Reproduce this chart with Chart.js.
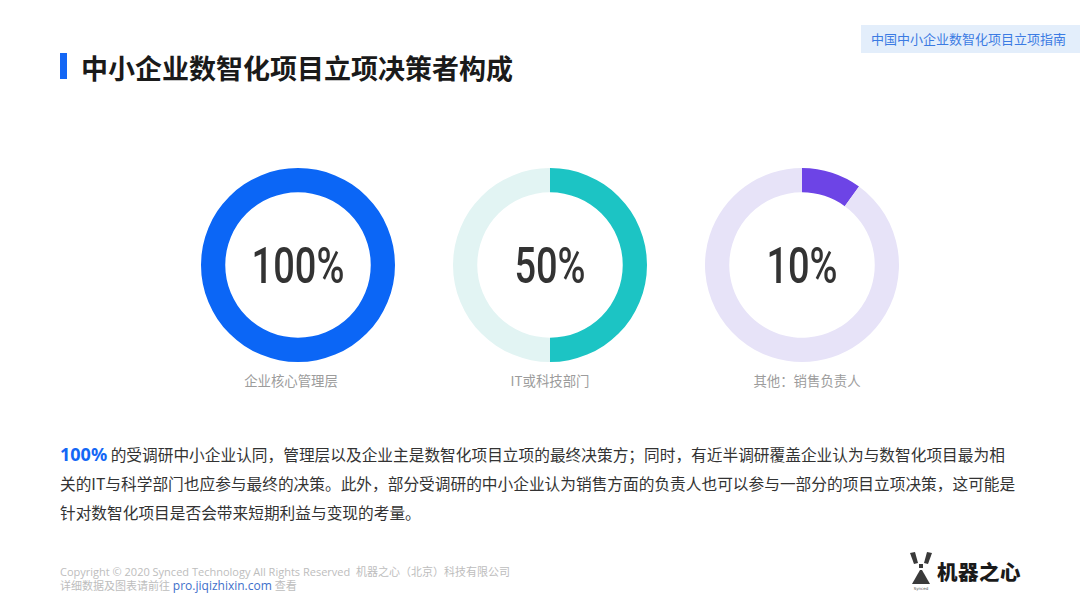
<!DOCTYPE html>
<html>
<head>
<meta charset="utf-8">
<script src="https://cdn.jsdelivr.net/npm/chart.js@4.4.0/dist/chart.umd.min.js"></script>
<style>
  html, body { margin:0; padding:0; background:#fff; }
  body { width:1080px; height:608px; position:relative; overflow:hidden; font-family:"Noto Sans CJK SC","Noto Sans",sans-serif; }
  .tag { position:absolute; left:861px; top:25px; width:219px; height:28px; background:#e3eefb; color:#3b7be3; font-size:13px; line-height:28px; padding-left:10px; box-sizing:border-box; }
  .bar { position:absolute; left:60px; top:53px; width:7px; height:26px; background:#1467f5; }
  .title { position:absolute; left:81px; top:50px; font-size:27px; line-height:36px; font-weight:700; color:#1a1a1a; letter-spacing:0px; }
  .donut { position:absolute; width:194px; height:194px; top:168px; }
  .lbl { position:absolute; top:370px; width:240px; text-align:center; font-size:13.4px; line-height:20px; color:#9c9c9c; }
  .para { position:absolute; left:60px; top:440px; width:962px; font-size:15.7px; color:#333; }
  .para div { height:29px; line-height:29px; white-space:nowrap; }
  .para b { color:#1467f5; font-family:"Noto Sans","Open Sans",sans-serif; font-size:18px; font-weight:700; }
  .foot { position:absolute; left:60px; top:565px; font-size:11px; line-height:14px; color:#bdbdbd; font-family:"Open Sans","Noto Sans","Noto Sans CJK SC",sans-serif; }
  .foot span { color:#3e6fca; font-size:12px; }
  .logo { position:absolute; left:908px; top:551px; }
  .logotext { position:absolute; left:937px; top:558px; font-size:20.5px; font-weight:900; color:#1a1a1a; letter-spacing:0.5px; line-height:26px; }
</style>
</head>
<body>
<div class="tag">中国中小企业数智化项目立项指南</div>
<div class="bar"></div>
<div class="title">中小企业数智化项目立项决策者构成</div>

<div class="donut" style="left:201px"><canvas id="c0"></canvas></div>
<div class="donut" style="left:453px"><canvas id="c1"></canvas></div>
<div class="donut" style="left:705px"><canvas id="c2"></canvas></div>
<div class="lbl" id="l0" style="left:171px"></div>
<div class="lbl" id="l1" style="left:430px"></div>
<div class="lbl" id="l2" style="left:687px"></div>

<div class="para">
  <div><b>100%</b> 的受调研中小企业认同，管理层以及企业主是数智化项目立项的最终决策方；同时，有近半调研覆盖企业认为与数智化项目最为相</div>
  <div>关的IT与科学部门也应参与最终的决策。此外，部分受调研的中小企业认为销售方面的负责人也可以参与一部分的项目立项决策，这可能是</div>
  <div>针对数智化项目是否会带来短期利益与变现的考量。</div>
</div>

<div class="foot">Copyright © 2020 Synced Technology All Rights Reserved&nbsp; 机器之心（北京）科技有限公司<br>详细数据及图表请前往 <span>pro.jiqizhixin.com</span> 查看</div>

<svg class="logo" width="26" height="40" viewBox="0 0 26 40">
  <polygon points="2,2 7,1 10,12 6,13" fill="#3a3a3a"/>
  <polygon points="19,1 24,2 20,13 16,12" fill="#3a3a3a"/>
  <rect x="11" y="13" width="4" height="4" fill="#3a3a3a"/>
  <polygon points="12,19 14,19 22,33 4,33" fill="#3a3a3a"/>
  <text x="13" y="38.5" font-size="4" text-anchor="middle" fill="#555" font-family="DejaVu Sans">Synced</text>
</svg>
<div class="logotext">机器之心</div>

<script>
const categories = ["企业核心管理层", "IT或科技部门", "其他：销售负责人"];
const shares = [100, 50, 10];
const valueLabels = ["100%", "50%", "10%"];
const mainColors = ["#0b66f6", "#1cc4c4", "#6d44e6"];
const trackColors = ["#e3eefb", "#e2f4f3", "#e7e3f8"];

const centerText = {
  id: 'centerText',
  afterDraw(chart, args, opts) {
    const ctx = chart.ctx;
    const meta = chart.getDatasetMeta(0);
    const arc = meta.data[0];
    const cx = arc.x, cy = arc.y;
    ctx.save();
    ctx.font = '500 50px Roboto, "DejaVu Sans", sans-serif';
    ctx.fillStyle = '#333333';
    ctx.textAlign = 'center';
    ctx.textBaseline = 'alphabetic';
    ctx.translate(cx, cy + 18);
    ctx.scale(0.76, 1);
    ctx.fillText(opts.text, 0, 0);
    ctx.restore();
  }
};

categories.forEach((cat, i) => {
  document.getElementById('l' + i).textContent = cat;
  new Chart(document.getElementById('c' + i), {
    type: 'doughnut',
    data: {
      labels: [cat, ''],
      datasets: [{
        data: [shares[i], 100 - shares[i]],
        backgroundColor: [mainColors[i], trackColors[i]],
        borderWidth: 0
      }]
    },
    options: {
      responsive: true,
      maintainAspectRatio: false,
      animation: false,
      cutout: '75%',
      layout: { padding: 0 },
      plugins: {
        legend: { display: false },
        tooltip: { enabled: false },
        centerText: { text: valueLabels[i] }
      }
    },
    plugins: [centerText]
  });
});
</script>
</body>
</html>
